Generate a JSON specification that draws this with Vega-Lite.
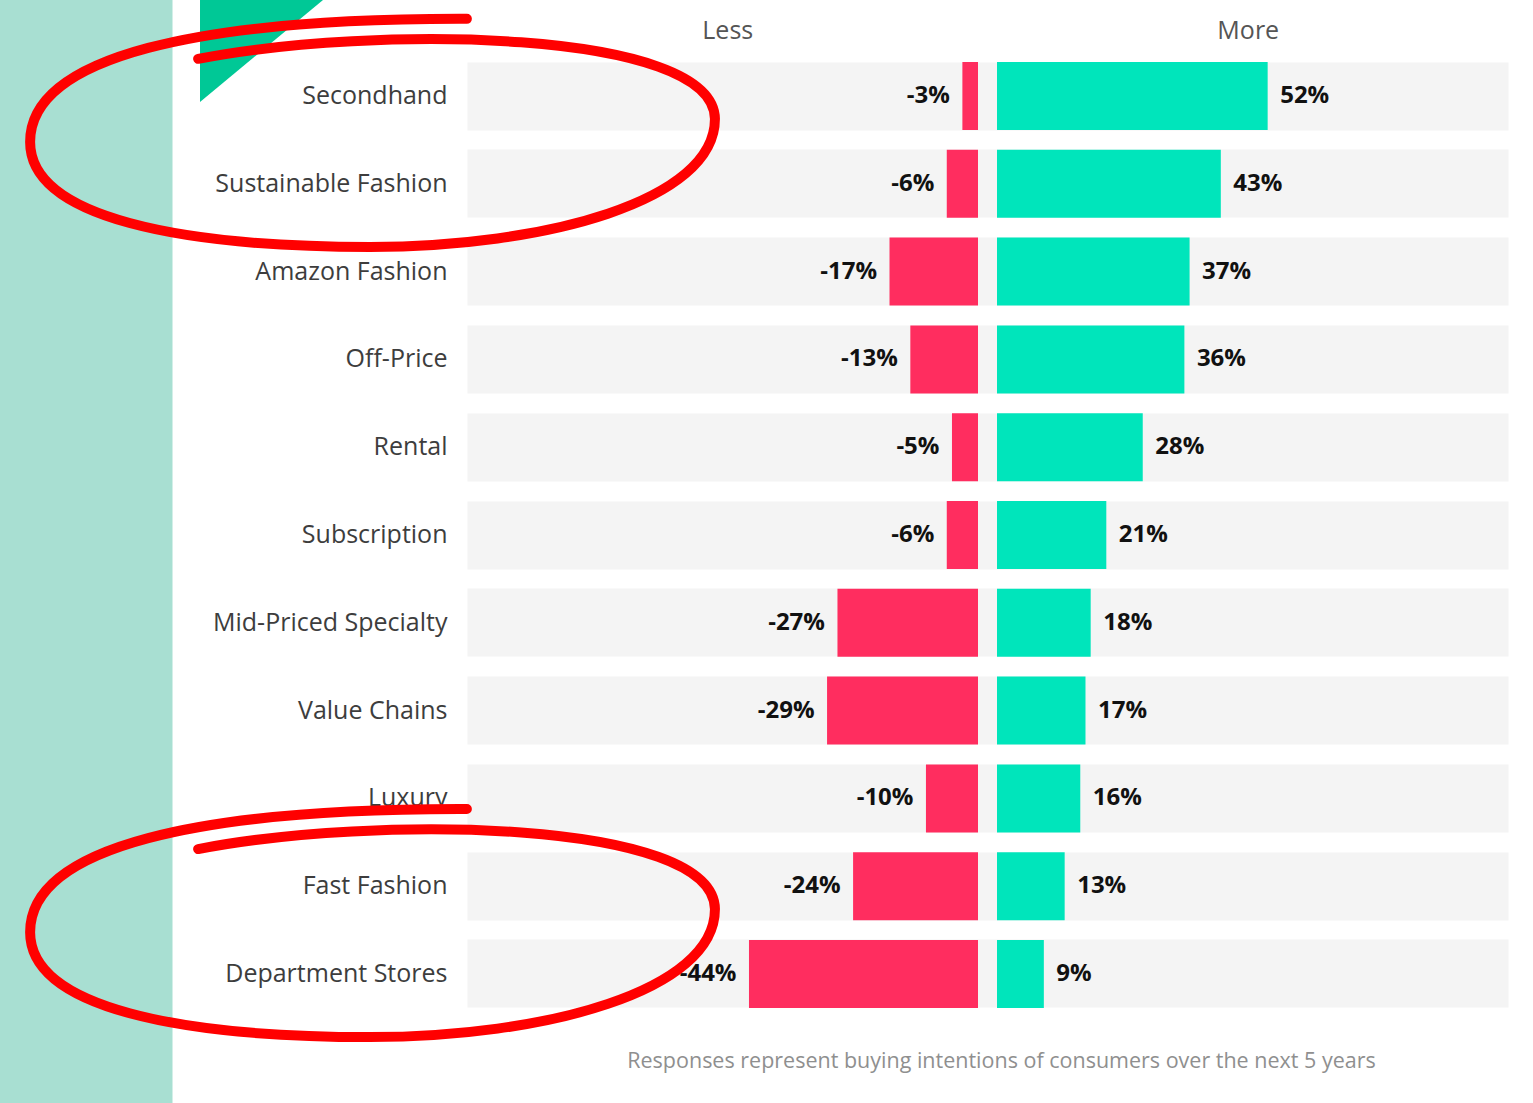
{
  "$schema": "https://vega.github.io/schema/vega-lite/v6.json",
  "width": 1041,
  "height": 946,
  "autosize": {"type": "none"},
  "padding": {"left": 467, "top": 62, "right": 25, "bottom": 95},
  "background": "white",
  "config": {
    "view": {"stroke": null},
    "font": "Open Sans",
    "axis": {"grid": false, "ticks": false, "domain": false},
    "locale": {"number": {"decimal": ".", "thousands": ",", "grouping": [3], "currency": ["$", ""], "minus": "-"}}
  },
  "datasets": {
    "shops": [
      {"category": "Secondhand", "less": -0.03, "more": 0.52},
      {"category": "Sustainable Fashion", "less": -0.06, "more": 0.43},
      {"category": "Amazon Fashion", "less": -0.17, "more": 0.37},
      {"category": "Off-Price", "less": -0.13, "more": 0.36},
      {"category": "Rental", "less": -0.05, "more": 0.28},
      {"category": "Subscription", "less": -0.06, "more": 0.21},
      {"category": "Mid-Priced Specialty", "less": -0.27, "more": 0.18},
      {"category": "Value Chains", "less": -0.29, "more": 0.17},
      {"category": "Luxury", "less": -0.10, "more": 0.16},
      {"category": "Fast Fashion", "less": -0.24, "more": 0.13},
      {"category": "Department Stores", "less": -0.44, "more": 0.09}
    ],
    "highlights": [
      {"category": "Secondhand"},
      {"category": "Fast Fashion"}
    ],
    "logo": [
      {"category": "Secondhand"}
    ]
  },
  "data": {"name": "shops"},
  "encoding": {
    "y": {
      "field": "category",
      "type": "nominal",
      "scale": {
        "domain": ["Secondhand", "Sustainable Fashion", "Amazon Fashion", "Off-Price", "Rental", "Subscription", "Mid-Priced Specialty", "Value Chains", "Luxury", "Fast Fashion", "Department Stores"],
        "paddingInner": 0.2255,
        "paddingOuter": 0
      },
      "axis": {
        "title": null,
        "offset": 395,
        "domain": true,
        "domainColor": "#A8DFD2",
        "domainWidth": 200,
        "domainCap": "square",
        "grid": true,
        "gridColor": "#F4F4F4",
        "gridWidth": 68,
        "gridOpacity": 1,
        "ticks": false,
        "tickSize": 0,
        "labelPadding": -375,
        "labelFontSize": 25,
        "labelLimit": 0,
        "labelColor": "#3d3d3d",
        "labelAlign": "right",
        "labelBaseline": "middle"
      }
    }
  },
  "layer": [
    {
      "mark": {"type": "bar", "color": "#FF2D5F", "xOffset": -9.5, "x2Offset": -9.5},
      "encoding": {
        "x": {
          "field": "less",
          "type": "quantitative",
          "scale": {"domain": [-1, 1], "nice": false},
          "axis": {
            "orient": "top",
            "values": [-0.5, 0.5],
            "labelExpr": "datum.value < 0 ? 'Less' : 'More'",
            "domain": false,
            "ticks": false,
            "tickSize": 0,
            "grid": false,
            "labelPadding": 24,
            "labelBaseline": "alphabetic",
            "labelFontSize": 25,
            "labelColor": "#555555",
            "labelFlush": false,
            "title": "Responses represent buying intentions of consumers over the next 5 years",
            "titleFontSize": 21.5,
            "titleFontWeight": "normal",
            "titleColor": "#8f8f8f",
            "titleX": 534,
            "titleY": 1005,
            "titleBaseline": "alphabetic",
            "titleAlign": "center"
          }
        }
      }
    },
    {
      "mark": {"type": "bar", "color": "#00E5BB", "xOffset": 9.5, "x2Offset": 9.5},
      "encoding": {
        "x": {"field": "more", "type": "quantitative"}
      }
    },
    {
      "mark": {"type": "text", "align": "right", "baseline": "middle", "xOffset": -22, "fontWeight": "bold", "fontSize": 24, "color": "#111111"},
      "encoding": {
        "x": {"field": "less", "type": "quantitative"},
        "text": {"field": "less", "type": "quantitative", "format": ".0%"}
      }
    },
    {
      "mark": {"type": "text", "align": "left", "baseline": "middle", "xOffset": 22, "fontWeight": "bold", "fontSize": 24, "color": "#111111"},
      "encoding": {
        "x": {"field": "more", "type": "quantitative"},
        "text": {"field": "more", "type": "quantitative", "format": ".0%"}
      }
    },
    {
      "data": {"name": "logo"},
      "mark": {"type": "point", "shape": "M-1,-1L1,-1L-1,0.659Z", "size": 15129, "filled": true, "fill": "#00C896", "strokeWidth": 0, "opacity": 1, "yOffset": -34.5},
      "encoding": {
        "x": {"datum": -1.3948, "type": "quantitative"}
      }
    },
    {
      "data": {"name": "highlights"},
      "mark": {
        "type": "point",
        "shape": "M-0.504,-0.212 C0,-0.31 0.99,-0.30 0.994,-0.038 C0.994,0.2 0.5,0.333 -0.006,0.333 C-0.55,0.333 -0.991,0.25 -0.991,0.029 C-0.991,-0.22 -0.5,-0.33 0.275,-0.328",
        "size": 476100,
        "filled": false,
        "stroke": "#FF0000",
        "strokeWidth": 10,
        "strokeCap": "round",
        "opacity": 1,
        "yOffset": 36
      },
      "encoding": {
        "x": {"datum": -1.1825, "type": "quantitative"}
      }
    }
  ]
}
